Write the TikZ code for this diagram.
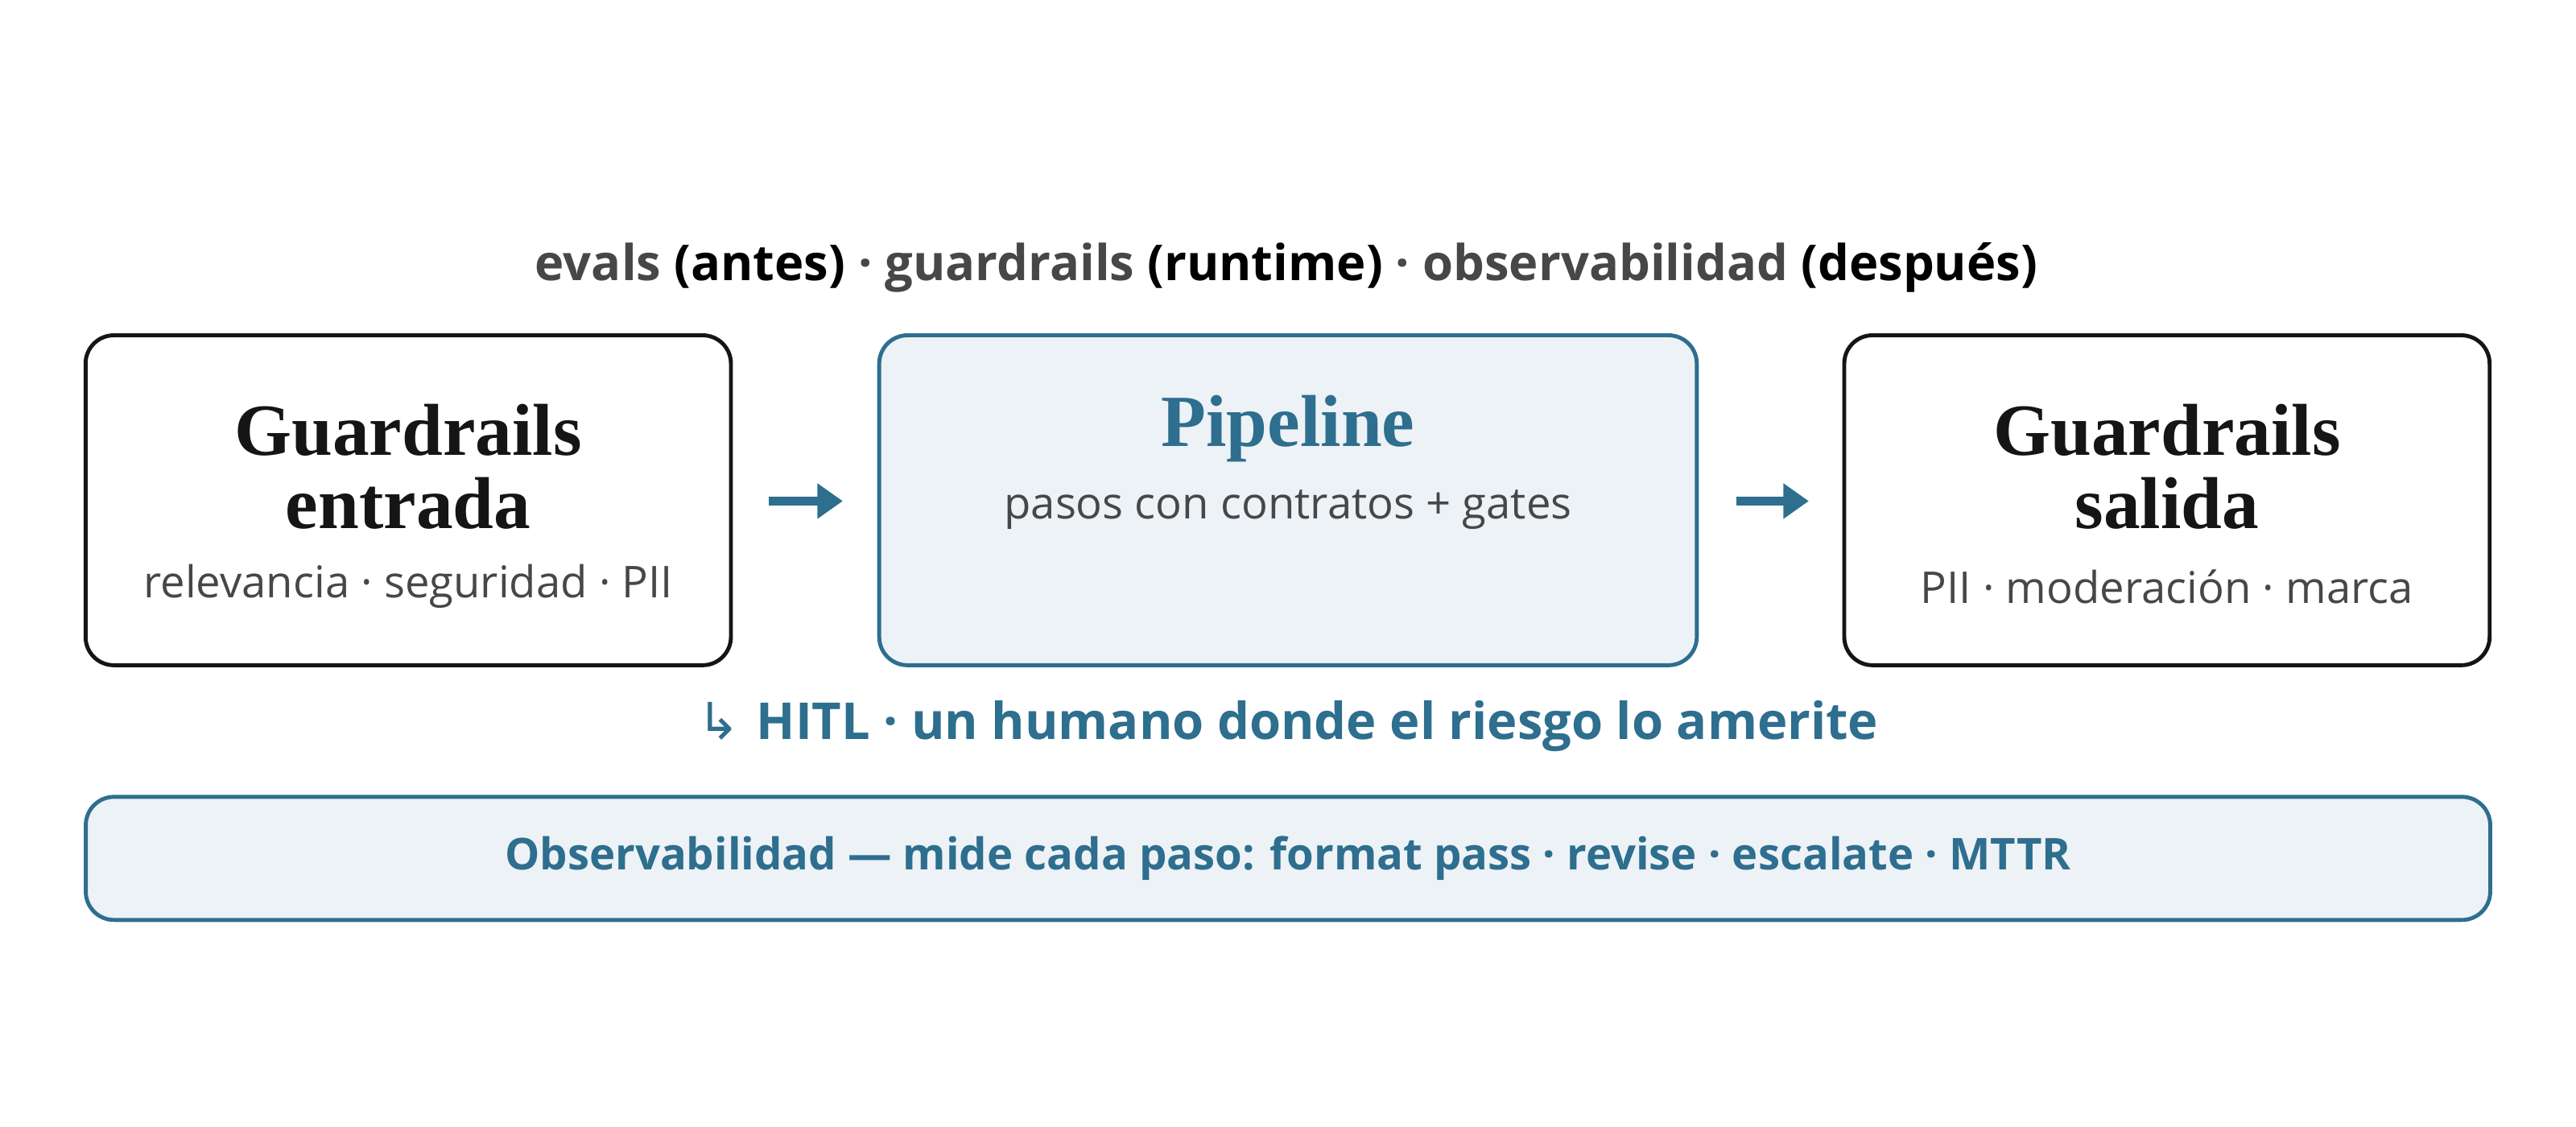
\documentclass[tikz,border=0pt]{standalone}
\usepackage{fontspec}
\setmainfont{Liberation Serif}
\setsansfont{Open Sans}
\usetikzlibrary{positioning,arrows.meta}
\definecolor{accent}{HTML}{2E6E8E}
\definecolor{softfill}{HTML}{EDF2F6}
\definecolor{ink}{HTML}{151515}
\definecolor{muted}{HTML}{474747}
\tikzset{
  stage/.style={draw=ink, line width=1.4pt, rounded corners=10pt, minimum width=8.02cm, minimum height=4.1cm},
  hilite/.style={stage, draw=accent, fill=softfill, minimum width=10.16cm},
  head/.style={font=\rmfamily\bfseries\fontsize{26}{28}\selectfont, text=ink, align=center},
  sub/.style={font=\sffamily\fontsize{15.5}{18}\selectfont, text=muted},
  flow/.style={-{Triangle[length=9pt,width=12pt]}, line width=3pt, draw=accent},
}
\begin{document}
\begin{tikzpicture}[x=0.02041cm, y=-0.02041cm]
\useasboundingbox (0,0) rectangle (1568,686);
% titulo
\node[font=\sffamily\bfseries\fontsize{17.5}{20}\selectfont] (title) at (783,163)
  {\textcolor{muted}{evals} (antes) \textcolor{muted}{· guardrails} (runtime) \textcolor{muted}{· observabilidad} (después)};
% cajas
\node[stage] (inbox) at (248.5,304.5) {};
\node[hilite] (pipe) at (784,304.5) {};
\node[stage] (outbox) at (1319,304.5) {};
\node[head] (inhead) at (248.5,284) {Guardrails\\[-2pt]entrada};
\node[sub] (insub) at (248.5,357) {relevancia · seguridad · PII};
\node[head, text=accent] (pipehead) at (784,261) {Pipeline};
\node[sub] (pipesub) at (784,310) {pasos con contratos + gates};
\node[head] (outhead) at (1319,284) {Guardrails\\[-2pt]salida};
\node[sub] (outsub) at (1319,357) {PII · moderación · marca};
% flechas
\coordinate (a1) at (468,305); \coordinate (a2) at (513,305);
\coordinate (b1) at (1057,305); \coordinate (b2) at (1101,305);
\draw[flow] (a1) -- (a2);
\draw[flow] (b1) -- (b2);
% hitl
\node[font=\sffamily\bfseries\fontsize{18}{21}\selectfont, text=accent] (hitl) at (784,442)
  {\fontspec{DejaVu Sans}\mdseries ↳\ \sffamily\bfseries HITL · un humano donde el riesgo lo amerite};
% observabilidad
\node[draw=accent, fill=softfill, line width=1.4pt, rounded corners=10pt, minimum width=29.88cm, minimum height=1.53cm,
  font=\sffamily\bfseries\fontsize{15.5}{18}\selectfont, text=accent] (obs) at (784,522.5)
  {Observabilidad — mide cada paso: format pass · revise · escalate · MTTR};
\end{tikzpicture}
\end{document}
